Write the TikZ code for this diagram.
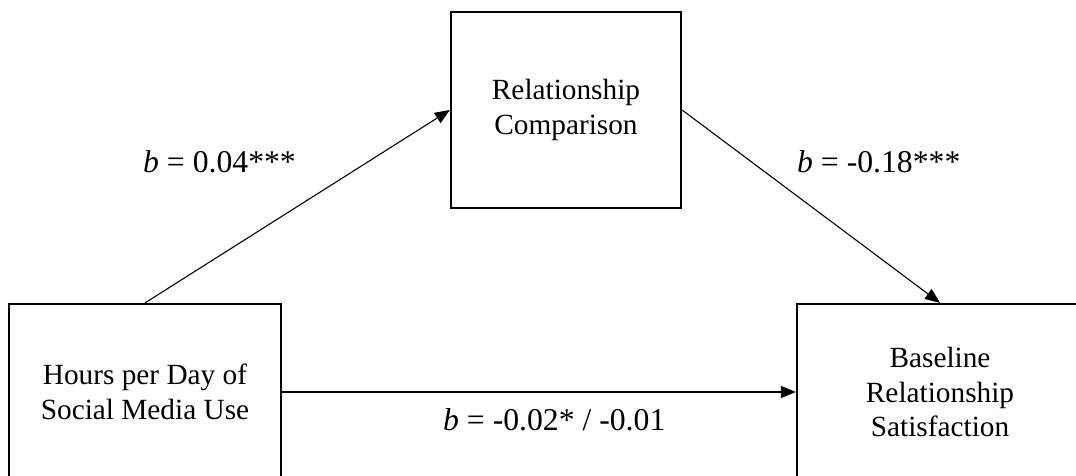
\documentclass[tikz,border=0pt]{standalone}
\usepackage{fontspec}
\setmainfont{Liberation Serif}
\usetikzlibrary{arrows.meta}
\tikzset{
  varbox/.style={draw, line width=2.2pt, rectangle, align=center, inner sep=0pt,
    font=\fontsize{29.3}{34.5}\selectfont},
  coef/.style={inner sep=0pt, font=\fontsize{31.7}{34}\selectfont},
  path/.style={line width=1.1pt, -{Triangle[length=15pt,width=12pt]}}
}
\begin{document}
\begin{tikzpicture}[x=1pt,y=-1pt]
\useasboundingbox (0,0) rectangle (1076,476);
\clip (0,0) rectangle (1076,476);
\fill[white] (0,0) rectangle (1076,476);
\node[varbox, minimum width=272pt, minimum height=176pt] (hours) at (145,392)
  {Hours per Day of\\Social Media Use};
\node[varbox, minimum width=230pt, minimum height=196pt] (comp) at (566,110)
  {\raisebox{-3pt}{\parbox{200pt}{\centering Relationship\\Comparison}}};
\node[varbox, minimum width=286pt, minimum height=176pt] (sat) at (940,392)
  {Baseline\\Relationship\\Satisfaction};
\draw[path] (hours.north) -- (comp.west);
\draw[path] (comp.east) -- (sat.north);
\draw[path] (hours.east) -- (sat.west);
\node[coef, anchor=base west] (a) at (143,172) {\textit{b} = 0.04***};
\node[coef, anchor=base west] (bb) at (797,172) {\textit{b} = -0.18***};
\node[coef, anchor=base west] (c) at (443,430) {\textit{b} = -0.02* / -0.01};
\end{tikzpicture}
\end{document}
